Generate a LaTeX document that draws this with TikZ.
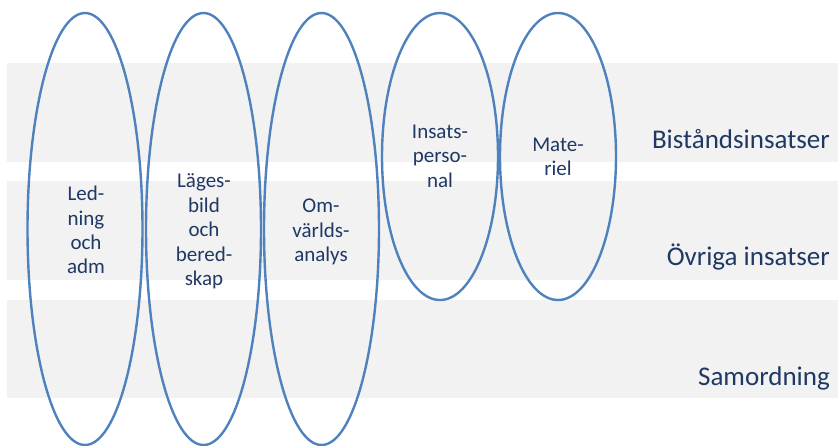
\documentclass[tikz,border=0pt]{standalone}
\usepackage{fontspec}
\setmainfont{Carlito}
\definecolor{bandgray}{HTML}{F2F2F2}
\definecolor{ringblue}{HTML}{4F81BD}
\definecolor{textnavy}{HTML}{1F3864}
\begin{document}
\begin{tikzpicture}[x=1pt,y=-1pt,
  band/.style={fill=bandgray,draw=none},
  ring/.style={draw=ringblue,line width=2.4pt},
  inlabel/.style={text=textnavy,align=center,font=\fontsize{21}{24.4}\selectfont,inner sep=0pt},
  rowlabel/.style={text=textnavy,anchor=base east,font=\fontsize{27}{32}\selectfont,inner sep=0pt}]
\useasboundingbox (0,0) rectangle (838,445);
\clip (0,0) rectangle (838,445);
% bands
\fill[band] (7,63) rectangle (838,162);
\fill[band] (7,181) rectangle (838,280);
\fill[band] (7,300) rectangle (838,398);
% ellipses
\draw[ring] (85,229) ellipse [x radius=57.5, y radius=216];
\draw[ring] (203.5,229) ellipse [x radius=57.5, y radius=216];
\draw[ring] (321.5,229) ellipse [x radius=57.5, y radius=216];
\draw[ring] (440,156.5) ellipse [x radius=58, y radius=143.5];
\draw[ring] (558,156.5) ellipse [x radius=58, y radius=143.5];
% inner labels
\node[inlabel] (led) at (86,230) {Led-\\ning\\och\\adm};
\node[inlabel] (lage) at (204,231.5) {Läges-\\bild\\och\\bered-\\skap};
\node[inlabel] (omv) at (321,232) {Om-\\världs-\\analys};
\node[inlabel] (ins) at (440,156) {Insats-\\perso-\\nal};
\node[inlabel] (mat) at (558,157) {Mate-\\riel};
% row labels
\node[rowlabel] (bis) at (830,148) {Biståndsinsatser};
\node[rowlabel] (ovr) at (830,265) {Övriga insatser};
\node[rowlabel] (sam) at (830,385) {Samordning};
\end{tikzpicture}
\end{document}
